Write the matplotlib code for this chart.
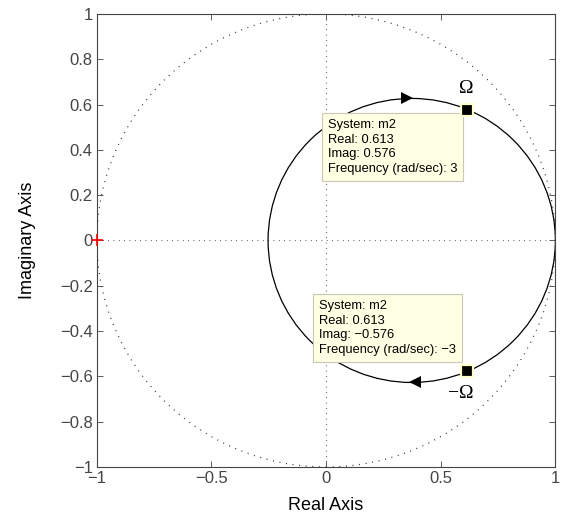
import numpy as np
import matplotlib
matplotlib.use("Agg")
import matplotlib.pyplot as plt
from matplotlib.patches import Circle

# ---- data ----
curve_center = (0.374, 0.0)      # Nyquist circle centre
curve_radius = 0.627             # Nyquist circle radius
arrow_re = [0.354, 0.389]
arrow_im = [0.627, -0.627]
arrow_dir = [1, -1]              # +1 -> pointing right, -1 -> left
tip_re = [0.613, 0.613]
tip_im = [0.576, -0.576]
tip_freq = ["3", "\u22123"]
tip_imag_txt = ["0.576", "\u22120.576"]
tip_box_xy = [(0.009, 0.536), (-0.031, -0.263)]
omega_labels = ["\u03a9", "\u2212\u03a9"]
omega_xy = [(0.613, 0.672), (0.590, -0.675)]
critical_point = (-1.0, 0.0)
xticks = [-1, -0.5, 0, 0.5, 1]
xticklabels = ["\u22121", "\u22120.5", "0", "0.5", "1"]
yticks = [-1, -0.8, -0.6, -0.4, -0.2, 0, 0.2, 0.4, 0.6, 0.8, 1]
yticklabels = ["\u22121", "\u22120.8", "\u22120.6", "\u22120.4", "\u22120.2", "0",
               "0.2", "0.4", "0.6", "0.8", "1"]

plt.rcParams['font.family'] = ['Liberation Sans', 'DejaVu Sans']

fig = plt.figure(figsize=(5.70, 5.16), dpi=100)
ax = fig.add_axes([0.170, 0.095, 0.804, 0.878])
ax.set_xlim(-1, 1)
ax.set_ylim(-1, 1)

axcol = '#444444'
# grid: unit circle and axes lines (dotted)
ax.add_patch(Circle((0, 0), 1.0, fill=False, ec='#333333', lw=0.9,
                    ls=(0, (0.8, 4.5)), zorder=1))
ax.axhline(0, color='#555555', lw=0.8, ls=(0, (0.8, 4.0)), zorder=1)
ax.axvline(0, color='#555555', lw=0.8, ls=(0, (0.8, 4.0)), zorder=1)

# Nyquist curve
ax.add_patch(Circle(curve_center, curve_radius, fill=False, ec='black', lw=0.9, zorder=2))

# arrows
for xr, yi, d in zip(arrow_re, arrow_im, arrow_dir):
    ax.plot([xr], [yi], marker='>' if d > 0 else '<', color='black',
            markersize=8, zorder=4, markeredgewidth=0)

# critical point
ax.plot([critical_point[0]], [critical_point[1]], marker='+', color='red',
        markersize=9, mew=1.2, zorder=5, clip_on=False)

# data tips
for xr, yi, f, it, bxy in zip(tip_re, tip_im, tip_freq, tip_imag_txt, tip_box_xy):
    txt = f"System: m2\nReal: {xr:.3f}\nImag: {it}\nFrequency (rad/sec): {f}"
    ax.text(bxy[0], bxy[1], txt, fontsize=9.3, va='top', ha='left',
            linespacing=1.3, zorder=6,
            bbox=dict(boxstyle='square,pad=0.45', fc='#ffffe4', ec='#c8c8b4', lw=0.8))
    ax.plot([xr], [yi], marker='s', color='black', markersize=8.6,
            markeredgecolor='#ffffd0', mew=1.6, zorder=7)

# omega labels
for lab, (xo, yo) in zip(omega_labels, omega_xy):
    ax.text(xo, yo, lab, fontsize=14, ha='center', va='center',
            family=['Liberation Serif', 'DejaVu Serif'], zorder=8)

ax.set_xticks(xticks)
ax.set_xticklabels(xticklabels)
ax.set_yticks(yticks)
ax.set_yticklabels(yticklabels)
ax.tick_params(direction='in', top=True, right=True, length=4, width=0.6,
               color=axcol, labelcolor=axcol, labelsize=12, pad=3)
for s in ax.spines.values():
    s.set_color(axcol)
    s.set_linewidth(0.8)
ax.set_xlabel('Real Axis', fontsize=13, labelpad=8)
ax.set_ylabel('Imaginary Axis', fontsize=13, labelpad=17)

fig.savefig('out.png', dpi=100)
